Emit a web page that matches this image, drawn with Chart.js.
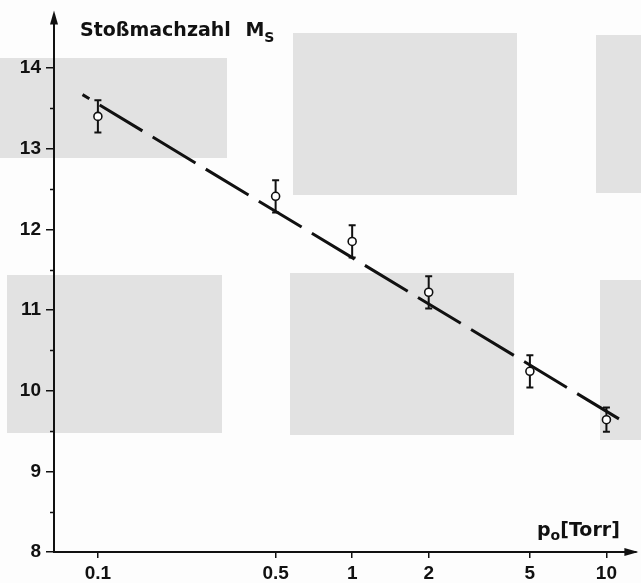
<!DOCTYPE html>
<html>
<head>
<meta charset="utf-8">
<script src="https://cdn.jsdelivr.net/npm/chart.js@4.4.1/dist/chart.umd.min.js"></script>
<style>
    body { margin: 0; background: #fff; }
    #wrap { position: relative; width: 641px; height: 583px; overflow: hidden; background: #fdfdfd; }
    .scan { position: absolute; background: #e2e2e2; }
    #chartBox { position: absolute; left: 0; top: 0; }
    .lbl {
        position: absolute;
        font-family: 'DejaVu Sans', sans-serif;
        font-weight: bold;
        font-size: 19px;
        line-height: 19px;
        color: #111;
        white-space: nowrap;
    }
    .low { position: relative; font-size: 14px; top: 6px; }
</style>
</head>
<body>
<div id="wrap">
    <!-- grey shadows from the scanned page -->
    <div class="scan" style="left:0;top:58px;width:227px;height:100px"></div>
    <div class="scan" style="left:293px;top:33px;width:224px;height:162px"></div>
    <div class="scan" style="left:596px;top:35px;width:45px;height:158px"></div>
    <div class="scan" style="left:7px;top:275px;width:215px;height:158px"></div>
    <div class="scan" style="left:290px;top:273px;width:224px;height:162px"></div>
    <div class="scan" style="left:600px;top:280px;width:41px;height:160px"></div>

    <div id="chartBox"><canvas id="myChart" width="641" height="583"></canvas></div>

    <div class="lbl" style="left:80px;top:20px">Stoßmachzahl <span style="margin-left:8px">M</span><span class="low">S</span></div>
    <div class="lbl" style="left:537px;top:520px">p<span class="low" style="top:4px">o</span>[Torr]</div>
</div>

<script>
// measured points
const pressure = [0.1, 0.5, 1, 2, 5, 10];
const machNumber = [13.40, 12.41, 11.85, 11.22, 10.24, 9.64];
const machError = [0.2, 0.2, 0.2, 0.2, 0.2, 0.15];

// dashed fit line (end points)
const fitPressure = [0.087, 11.2];
const fitMach = [13.67, 9.65];

// axis ticks
const xTicks = [0.1, 0.5, 1, 2, 5, 10];
const yTicks = [8, 9, 10, 11, 12, 13, 14];
const yMinorTicks = [8.5, 9.5, 10.5, 11.5, 12.5, 13.5];

const ink = '#111';

// error bars + minor ticks + arrow heads
const paperPlugin = {
    id: 'paper',
    beforeDatasetsDraw(chart) {
        const ctx = chart.ctx;
        const x = chart.scales.x;
        const y = chart.scales.y;
        ctx.save();
        ctx.strokeStyle = ink;
        ctx.lineWidth = 2;
        for (let i = 0; i < pressure.length; i++) {
            const px = x.getPixelForValue(pressure[i]);
            const top = y.getPixelForValue(machNumber[i] + machError[i]);
            const bot = y.getPixelForValue(machNumber[i] - machError[i]);
            ctx.beginPath();
            ctx.moveTo(px, top);
            ctx.lineTo(px, bot);
            ctx.moveTo(px - 3.5, top);
            ctx.lineTo(px + 3.5, top);
            ctx.moveTo(px - 3.5, bot);
            ctx.lineTo(px + 3.5, bot);
            ctx.stroke();
        }
        ctx.restore();
    },
    afterDraw(chart) {
        const ctx = chart.ctx;
        const area = chart.chartArea;
        const y = chart.scales.y;
        ctx.save();
        ctx.strokeStyle = ink;
        ctx.fillStyle = ink;
        ctx.lineWidth = 1.5;
        //minor ticks on y
        yMinorTicks.forEach(v => {
            const py = Math.round(y.getPixelForValue(v)) + 0.5;
            ctx.beginPath();
            ctx.moveTo(area.left - 4, py);
            ctx.lineTo(area.left, py);
            ctx.stroke();
        });
        // arrow up
        ctx.beginPath();
        ctx.moveTo(area.left, area.top - 6);
        ctx.lineTo(area.left - 4, area.top + 8);
        ctx.lineTo(area.left + 4, area.top + 8);
        ctx.closePath();
        ctx.fill();
        // arrow right
        ctx.beginPath();
        ctx.moveTo(area.right + 3, area.bottom);
        ctx.lineTo(area.right - 11, area.bottom - 4);
        ctx.lineTo(area.right - 11, area.bottom + 4);
        ctx.closePath();
        ctx.fill();
        ctx.restore();
    }
};

window.onload = function () {
    Chart.defaults.font.family = "'Liberation Sans', Arial, sans-serif";
    Chart.defaults.font.size = 19;
    Chart.defaults.font.weight = 'bold';
    Chart.defaults.color = ink;

    const chart = new Chart('myChart', {
        data: {
            datasets: [{
                type: 'scatter',
                data: pressure.map((p, i) => ({ x: p, y: machNumber[i] })),
                pointRadius: 4,
                pointBorderWidth: 1.6,
                pointBorderColor: ink,
                pointBackgroundColor: '#fff',
                order: 0
            }, {
                type: 'line',
                data: fitPressure.map((p, i) => ({ x: p, y: fitMach[i] })),
                borderColor: ink,
                borderWidth: 3,
                borderDash: [50, 12],
                borderDashOffset: 42,
                pointRadius: 0,
                fill: false,
                order: 1
            }]
        },
        options: {
            responsive: false,
            animation: false,
            layout: { padding: { top: 10, right: 3, left: 0, bottom: 0 } },
            plugins: {
                legend: { display: false },
                tooltip: { enabled: false }
            },
            scales: {
                x: {
                    type: 'logarithmic',
                    position: 'bottom',
                    min: 0.0672,
                    max: 13.0,
                    border: { display: true, color: ink, width: 2 },
                    grid: { drawOnChartArea: false, drawTicks: true, tickLength: 6, color: ink, lineWidth: 1.5 },
                    ticks: {
                        padding: 4,
                        maxRotation: 0,
                        autoSkip: false,
                        callback: v => String(v)
                    },
                    afterBuildTicks: s => { s.ticks = xTicks.map(v => ({ value: v })); },
                    afterFit: s => { s.height = 31; }
                },
                y: {
                    type: 'linear',
                    min: 8,
                    max: 14.64,
                    border: { display: true, color: ink, width: 2 },
                    grid: { drawOnChartArea: false, drawTicks: true, tickLength: 8, color: ink, lineWidth: 1.5 },
                    ticks: { padding: 5 },
                    afterBuildTicks: s => { s.ticks = yTicks.map(v => ({ value: v })); },
                    afterFit: s => { s.width = 54; }
                }
            }
        },
        plugins: [paperPlugin]
    });
};
</script>
</body>
</html>
